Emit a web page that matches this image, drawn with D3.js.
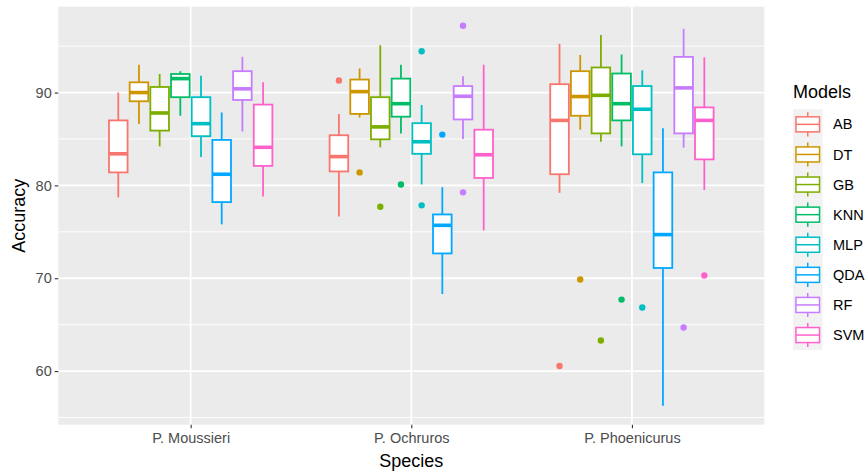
<!DOCTYPE html>
<html>
<head>
<meta charset="utf-8">
<script src="https://cdn.jsdelivr.net/npm/d3@7/dist/d3.min.js"></script>
<style>
  html, body { margin: 0; padding: 0; background: #fff; }
  svg { display: block; font-family: "Liberation Sans", Arial, sans-serif; }
</style>
</head>
<body>
<svg id="chart" width="865" height="472"></svg>
<script>
// ---- Data (rows = models, columns = species) ----
const species = ["P. Moussieri", "P. Ochruros", "P. Phoenicurus"];
const models = ["AB", "DT", "GB", "KNN", "MLP", "QDA", "RF", "SVM"];
const colors = ["#F8766D", "#CD9600", "#7CAE00", "#00BE67", "#00BFC4", "#00A9FF", "#C77CFF", "#FF61CC"];
const yTicks = [60, 70, 80, 90];
const yMinorTicks = [55, 65, 75, 85, 95];

const whiskerLow = [
  [78.7, 76.65, 79.2],
  [86.6, 87.3, 86.0],
  [84.2, 84.1, 84.7],
  [87.5, 85.6, 84.2],
  [83.05, 80.1, 80.25],
  [75.8, 68.3, 56.27],
  [85.8, 85.0, 84.07],
  [78.8, 75.15, 79.5]
];
const q1 = [
  [81.4, 81.5, 81.2],
  [89.06, 87.7, 87.5],
  [85.9, 84.96, 85.6],
  [89.5, 87.4, 87.0],
  [85.3, 83.4, 83.35],
  [78.2, 72.67, 71.1],
  [89.2, 87.1, 85.6],
  [82.1, 80.8, 82.8]
];
const median = [
  [83.4, 83.1, 87.0],
  [90.0, 90.1, 89.57],
  [87.8, 86.3, 89.7],
  [91.5, 88.8, 88.8],
  [86.65, 84.7, 88.2],
  [81.2, 75.7, 74.7],
  [90.4, 89.6, 90.5],
  [84.1, 83.3, 87.0]
];
const q3 = [
  [87.0, 85.4, 90.9],
  [91.1, 91.4, 92.3],
  [90.6, 89.5, 92.7],
  [92.0, 91.5, 92.05],
  [89.5, 86.7, 90.7],
  [84.9, 76.87, 81.4],
  [92.3, 90.7, 93.84],
  [88.7, 86.0, 88.4]
];
const whiskerHigh = [
  [90.0, 87.7, 95.25],
  [93.0, 92.6, 94.05],
  [92.0, 95.1, 96.2],
  [92.3, 93.0, 94.1],
  [91.8, 88.66, 92.4],
  [87.85, 79.8, 86.15],
  [93.85, 91.76, 96.86],
  [91.1, 93.0, 93.8]
];
// outliers: [species, model, value]
const outliers = [
  ["P. Ochruros", "AB", 91.3],
  ["P. Ochruros", "DT", 81.4],
  ["P. Ochruros", "GB", 77.7],
  ["P. Ochruros", "KNN", 80.1],
  ["P. Ochruros", "MLP", 94.45],
  ["P. Ochruros", "MLP", 77.85],
  ["P. Ochruros", "QDA", 85.47],
  ["P. Ochruros", "RF", 97.2],
  ["P. Ochruros", "RF", 79.25],
  ["P. Phoenicurus", "AB", 60.55],
  ["P. Phoenicurus", "DT", 69.86],
  ["P. Phoenicurus", "GB", 63.3],
  ["P. Phoenicurus", "KNN", 67.7],
  ["P. Phoenicurus", "MLP", 66.84],
  ["P. Phoenicurus", "RF", 64.7],
  ["P. Phoenicurus", "SVM", 70.3]
];

// ---- Build table ----
const boxes = [];
models.forEach((m, i) => species.forEach((s, j) => {
  boxes.push({ model: m, species: s, color: colors[i],
    lo: whiskerLow[i][j], q1: q1[i][j], med: median[i][j], q3: q3[i][j], hi: whiskerHigh[i][j] });
}));

// ---- Layout ----
const panel = { left: 58.3, right: 764.3, top: 6.7, bottom: 424.7 };
const svg = d3.select("#chart");

const allVals = boxes.flatMap(b => [b.lo, b.hi]).concat(outliers.map(o => o[2]));
const vMin = d3.min(allVals), vMax = d3.max(allVals);
const pad = (vMax - vMin) * 0.05;
const y = d3.scaleLinear().domain([vMin - pad, vMax + pad]).range([panel.bottom, panel.top]);

// discrete x: positions 1..3 with 0.6 expansion
const step = (panel.right - panel.left) / (species.length - 1 + 1.2);
const x = d3.scalePoint().domain(species).range([panel.left + 0.6 * step, panel.right - 0.6 * step]);
const dodge = d3.scaleBand().domain(models).range([-0.375 * step, 0.375 * step]).paddingInner(0.1).paddingOuter(0.05);
const boxW = dodge.bandwidth();
const slot = 0.75 * step / models.length;
const cx = (s, m) => x(s) - 0.375 * step + slot * (models.indexOf(m) + 0.5);
const bw = slot * 0.9;

// panel background
svg.append("rect").attr("x", panel.left).attr("y", panel.top)
  .attr("width", panel.right - panel.left).attr("height", panel.bottom - panel.top)
  .attr("fill", "#EBEBEB");

// gridlines
const grid = svg.append("g");
grid.selectAll(".minor").data(yMinorTicks).enter().append("line")
  .attr("x1", panel.left).attr("x2", panel.right)
  .attr("y1", d => y(d)).attr("y2", d => y(d))
  .attr("stroke", "#fff").attr("stroke-width", 0.9);
grid.selectAll(".major").data(yTicks).enter().append("line")
  .attr("x1", panel.left).attr("x2", panel.right)
  .attr("y1", d => y(d)).attr("y2", d => y(d))
  .attr("stroke", "#fff").attr("stroke-width", 1.8);
grid.selectAll(".vmajor").data(species).enter().append("line")
  .attr("x1", d => x(d)).attr("x2", d => x(d))
  .attr("y1", panel.top).attr("y2", panel.bottom)
  .attr("stroke", "#fff").attr("stroke-width", 1.8);

// boxes
const lw = 1.8;
const g = svg.append("g");
const bg = g.selectAll(".box").data(boxes).enter().append("g");
bg.append("line")
  .attr("x1", d => cx(d.species, d.model)).attr("x2", d => cx(d.species, d.model))
  .attr("y1", d => y(d.hi)).attr("y2", d => y(d.q3))
  .attr("stroke", d => d.color).attr("stroke-width", lw);
bg.append("line")
  .attr("x1", d => cx(d.species, d.model)).attr("x2", d => cx(d.species, d.model))
  .attr("y1", d => y(d.q1)).attr("y2", d => y(d.lo))
  .attr("stroke", d => d.color).attr("stroke-width", lw);
bg.append("rect")
  .attr("x", d => cx(d.species, d.model) - bw / 2).attr("width", bw)
  .attr("y", d => y(d.q3)).attr("height", d => y(d.q1) - y(d.q3))
  .attr("fill", "#fff").attr("stroke", d => d.color).attr("stroke-width", lw);
bg.append("line")
  .attr("x1", d => cx(d.species, d.model) - bw / 2).attr("x2", d => cx(d.species, d.model) + bw / 2)
  .attr("y1", d => y(d.med)).attr("y2", d => y(d.med))
  .attr("stroke", d => d.color).attr("stroke-width", lw * 2);

// outliers
g.selectAll(".out").data(outliers).enter().append("circle")
  .attr("cx", d => cx(d[0], d[1])).attr("cy", d => y(d[2])).attr("r", 3.2)
  .attr("fill", d => colors[models.indexOf(d[1])]);

// axes
const yAxis = d3.axisLeft(y).tickValues(yTicks).tickSize(3.6).tickPadding(3);
const ya = svg.append("g").attr("transform", `translate(${panel.left},0)`).call(yAxis);
ya.select(".domain").remove();
ya.selectAll("line").attr("stroke", "#333333").attr("stroke-width", 1.1);
ya.selectAll("text").attr("fill", "#4D4D4D").style("font-size", "14.5px")
  .style("font-family", "'Liberation Sans', Arial, sans-serif");

const xAxis = d3.axisBottom(x).tickSize(3.6).tickPadding(4);
const xa = svg.append("g").attr("transform", `translate(0,${panel.bottom})`).call(xAxis);
xa.select(".domain").remove();
xa.selectAll("line").attr("stroke", "#333333").attr("stroke-width", 1.1);
xa.selectAll("text").attr("fill", "#4D4D4D").style("font-size", "14.5px")
  .style("font-family", "'Liberation Sans', Arial, sans-serif");

// axis titles
svg.append("text").attr("x", (panel.left + panel.right) / 2).attr("y", 467)
  .attr("text-anchor", "middle").style("font-size", "18px").attr("fill", "#000").text("Species");
svg.append("text").attr("transform", `translate(25,${(panel.top + panel.bottom) / 2}) rotate(-90)`)
  .attr("text-anchor", "middle").style("font-size", "18px").attr("fill", "#000").text("Accuracy");

// legend
const lg = svg.append("g").attr("transform", "translate(793,0)");
lg.append("text").attr("x", 0).attr("y", 98).style("font-size", "18px").attr("fill", "#000").text("Models");
const keyH = 30.1, keyW = 29.5, keyTop = 109.3;
const key = lg.selectAll(".key").data(models).enter().append("g")
  .attr("transform", (d, i) => `translate(0,${keyTop + i * keyH})`);
key.append("rect").attr("width", keyW).attr("height", keyH).attr("fill", "#F2F2F2");
key.append("line").attr("x1", keyW / 2).attr("x2", keyW / 2).attr("y1", keyH * 0.1).attr("y2", keyH * 0.25)
  .attr("stroke", (d, i) => colors[i]).attr("stroke-width", 1.5);
key.append("line").attr("x1", keyW / 2).attr("x2", keyW / 2).attr("y1", keyH * 0.75).attr("y2", keyH * 0.9)
  .attr("stroke", (d, i) => colors[i]).attr("stroke-width", 1.5);
key.append("rect").attr("x", keyW * 0.1).attr("width", keyW * 0.8).attr("y", keyH * 0.25).attr("height", keyH * 0.5)
  .attr("fill", "#fff").attr("stroke", (d, i) => colors[i]).attr("stroke-width", 1.5);
key.append("line").attr("x1", keyW * 0.1).attr("x2", keyW * 0.9).attr("y1", keyH * 0.5).attr("y2", keyH * 0.5)
  .attr("stroke", (d, i) => colors[i]).attr("stroke-width", 1.5);
key.append("text").attr("x", 40).attr("y", keyH / 2).attr("dy", "0.35em")
  .style("font-size", "14.5px").attr("fill", "#000").text(d => d);
</script>
</body>
</html>
